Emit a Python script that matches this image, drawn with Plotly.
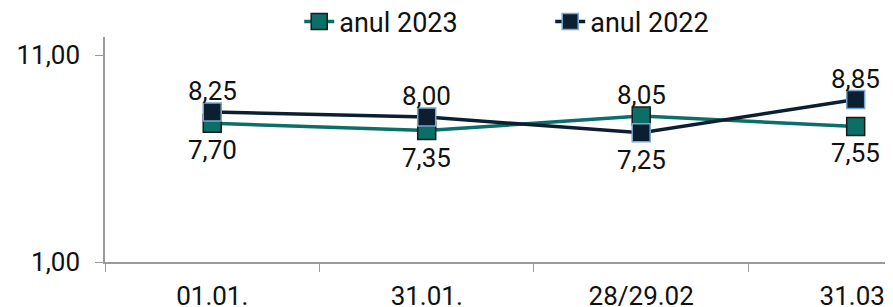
import plotly.graph_objects as go

categories = ["01.01.", "31.01.", "28/29.02", "31.03."]
values_2023 = [7.70, 7.35, 8.05, 7.55]
values_2022 = [8.25, 8.00, 7.25, 8.85]
above_2023 = [False, False, True, False]
above_2022 = [True, True, False, True]
ytick_vals = [1, 11]

FONT = "Roboto"
FS = 26
fig = go.Figure()
fig.add_trace(go.Scatter(
    x=categories, y=values_2023, name="anul 2023", mode="lines+markers",
    line=dict(color="#0b6e67", width=3.5),
    marker=dict(symbol="square", size=18, color="#0b6e67", line=dict(color="#1a1a1a", width=1.5)),
))
fig.add_trace(go.Scatter(
    x=categories, y=values_2022, name="anul 2022", mode="lines+markers",
    line=dict(color="#0c1f31", width=3.5),
    marker=dict(symbol="square", size=18, color="#0c1f31", line=dict(color="#7ba7cc", width=1.5)),
))

for vals, above in ((values_2023, above_2023), (values_2022, above_2022)):
    for c, v, a in zip(categories, vals, above):
        fig.add_annotation(
            x=c, y=v, text=f"{v:.2f}".replace(".", ","), showarrow=False,
            xanchor="center", yanchor="middle", yshift=21 if a else -27,
            font=dict(family=FONT, size=FS, color="#111111"),
        )

fig.update_layout(
    width=885, height=299,
    margin=dict(l=97, r=0, t=29, b=45, autoexpand=False),
    plot_bgcolor="white", paper_bgcolor="white",
    separators=",.",
    font=dict(family=FONT, size=FS, color="#111111"),
    showlegend=True,
    legend=dict(orientation="h", x=0.565, xanchor="center", yref="container", y=0.953, yanchor="middle",
                font=dict(family=FONT, size=27, color="#111111"), entrywidth=206,
                bgcolor="rgba(0,0,0,0)"),
)
fig.update_xaxes(
    type="category", range=[-0.5, 3.174], showgrid=False, zeroline=False,
    showline=True, linecolor="#9a9a9a", linewidth=1.5,
    ticks="outside", tickson="boundaries", ticklen=8, tickcolor="#9a9a9a",
    ticklabelstandoff=10,
)
fig.update_yaxes(
    range=[1, 11.87], tickvals=ytick_vals, tickformat=".2f", showgrid=False, zeroline=False,
    showline=True, linecolor="#9a9a9a", linewidth=1.5,
    ticks="outside", ticklen=8, tickcolor="#9a9a9a", ticklabelstandoff=10,
)
fig.write_html("out.html")
